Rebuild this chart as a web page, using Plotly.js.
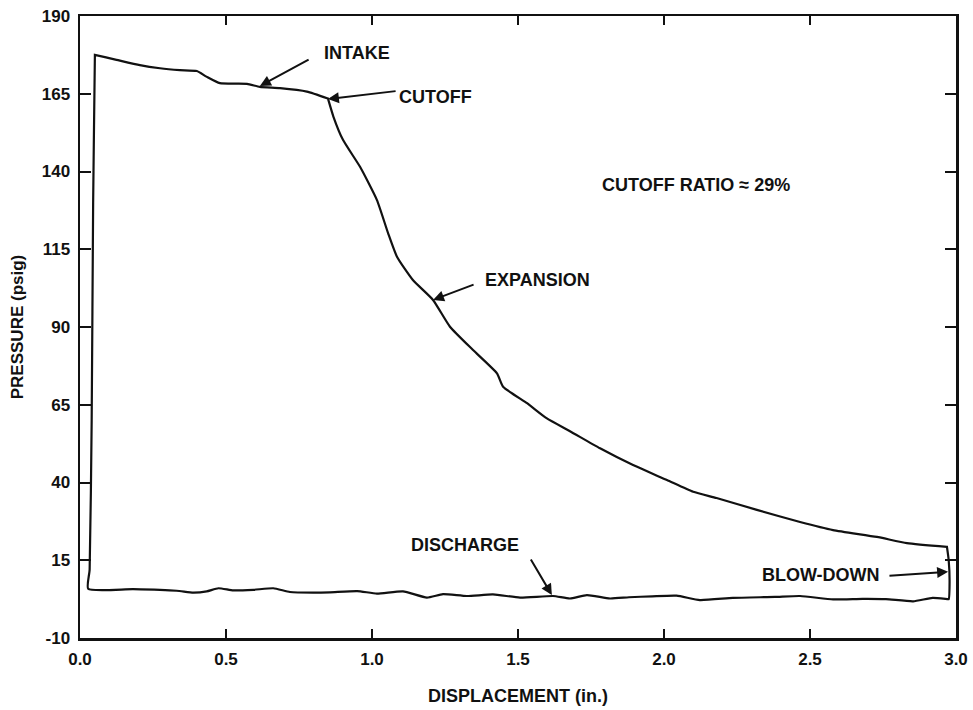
<!DOCTYPE html>
<html>
<head>
<meta charset="utf-8">
<script src="https://cdn.plot.ly/plotly-3.0.1.min.js"></script>
<style>html,body{margin:0;padding:0;background:#fff;}#chart{width:973px;height:710px;}</style>
</head>
<body>
<div id="chart"></div>
<script>
// Indicator diagram segments (displacement in., pressure psig)
const admissionX = [0.028, 0.033, 0.040, 0.045, 0.051];
const admissionY = [5.8, 12, 60, 130, 177.5];

const intakeX = [0.051, 0.125, 0.205, 0.274, 0.342, 0.400, 0.433, 0.479, 0.572, 0.616, 0.685, 0.777, 0.849];
const intakeY = [177.5, 175.9, 174.2, 173.2, 172.6, 172.3, 170.5, 168.4, 168.2, 167.2, 166.8, 165.7, 163.5];

const expansionX = [0.849, 0.868, 0.901, 0.959, 1.017, 1.055, 1.086, 1.140, 1.209, 1.267, 1.346, 1.428, 1.449, 1.531, 1.599, 1.678, 1.781, 1.894, 2.010, 2.100, 2.180, 2.318, 2.466, 2.579, 2.729, 2.832, 2.969];
const expansionY = [163.5, 157.6, 150.1, 141.5, 130.8, 120.2, 112.5, 105.1, 98.7, 90.1, 82.6, 75.1, 70.8, 65.5, 60.6, 56.5, 51.0, 45.6, 40.8, 37.0, 35.0, 31.2, 27.3, 24.7, 22.5, 20.5, 19.3];

const blowdownX = [2.969, 2.975, 2.978, 2.975];
const blowdownY = [19.3, 15, 8, 2.5];

const dischargeX = [2.973, 2.920, 2.853, 2.760, 2.680, 2.579, 2.466, 2.380, 2.236, 2.123, 2.043, 1.960, 1.880, 1.815, 1.736, 1.678, 1.620, 1.507, 1.414, 1.325, 1.243, 1.188, 1.106, 1.017, 0.949, 0.856, 0.798, 0.719, 0.662, 0.594, 0.525, 0.474, 0.434, 0.388, 0.331, 0.182, 0.028];
const dischargeY = [2.5, 2.9, 1.8, 2.5, 2.6, 2.4, 3.5, 3.2, 2.9, 2.2, 3.6, 3.4, 3.1, 2.7, 3.8, 2.7, 3.5, 3.0, 4.0, 3.5, 4.1, 3.0, 5.0, 4.3, 5.1, 4.7, 4.6, 4.8, 6.0, 5.5, 5.3, 6.0, 5.0, 4.6, 5.2, 5.7, 5.8];

const xTickVals = [0, 0.5, 1.0, 1.5, 2.0, 2.5, 3.0];
const xTickText = ['0.0', '0.5', '1.0', '1.5', '2.0', '2.5', '3.0'];
const yTickVals = [-10, 15, 40, 65, 90, 115, 140, 165, 190];
const yTickText = ['-10', '15', '40', '65', '90', '115', '140', '165', '190'];

// Labels: [text, x, y] and arrows: [tailX, tailY, headX, headY]
const labelTexts = ['INTAKE', 'CUTOFF', 'EXPANSION', 'CUTOFF RATIO \u2248 29%', 'DISCHARGE', 'BLOW-DOWN'];
const labelX = [0.829, 1.086, 1.380, 1.781, 1.127, 2.329];
const labelY = [178.1, 164.0, 105.1, 135.7, 19.9, 10.3];
const arrowTailX = [0.788, 1.086, 1.353, 1.541, 2.767];
const arrowTailY = [176.2, 165.9, 103.8, 15.7, 10.0];
const arrowHeadX = [0.616, 0.849, 1.209, 1.616, 2.973];
const arrowHeadY = [167.5, 163.3, 98.7, 3.8, 11.3];

const loopX = admissionX.concat(intakeX, expansionX, blowdownX, dischargeX);
const loopY = admissionY.concat(intakeY, expansionY, blowdownY, dischargeY);

const FONT = '"Liberation Sans", Arial, Helvetica, sans-serif';
const INK = '#111111';

const annotations = [];
labelTexts.forEach((t, i) => {
  annotations.push({
    x: labelX[i], y: labelY[i], xref: 'x', yref: 'y', text: t, showarrow: false,
    xanchor: 'left', yanchor: 'middle',
    font: {family: FONT, size: 18, color: INK, weight: 'bold'}
  });
});
arrowTailX.forEach((tx, i) => {
  annotations.push({
    x: arrowHeadX[i], y: arrowHeadY[i], xref: 'x', yref: 'y',
    ax: tx, ay: arrowTailY[i], axref: 'x', ayref: 'y',
    text: '', showarrow: true, arrowhead: 2, arrowsize: 1.1, arrowwidth: 2, arrowcolor: INK
  });
});

const data = [{
  type: 'scatter', mode: 'lines', x: loopX, y: loopY,
  line: {color: INK, width: 2.2, shape: 'spline', smoothing: 0.5},
  hoverinfo: 'skip', showlegend: false
}];

const layout = {
  width: 973, height: 710,
  margin: {l: 80, r: 17, t: 16, b: 72},
  paper_bgcolor: '#ffffff', plot_bgcolor: '#ffffff',
  showlegend: false,
  font: {family: FONT, color: INK, size: 17, weight: 'bold'},
  xaxis: {
    range: [0, 3], tickmode: 'array', tickvals: xTickVals, ticktext: xTickText,
    ticks: 'inside', ticklen: 9, tickwidth: 2, tickcolor: INK,
    showline: true, linewidth: 2.5, linecolor: INK, mirror: 'ticks',
    showgrid: false, zeroline: false, ticklabelstandoff: 4,
    tickfont: {family: FONT, size: 17, color: INK, weight: 'bold'},
    title: {text: 'DISPLACEMENT (in.)', standoff: 22, font: {family: FONT, size: 18, color: INK, weight: 'bold'}}
  },
  yaxis: {
    range: [-10, 190], tickmode: 'array', tickvals: yTickVals, ticktext: yTickText,
    ticks: 'inside', ticklen: 11, tickwidth: 2, tickcolor: INK,
    showline: true, linewidth: 2.5, linecolor: INK, mirror: 'ticks',
    showgrid: false, zeroline: false, ticklabelstandoff: 4,
    tickfont: {family: FONT, size: 17, color: INK, weight: 'bold'},
    title: {text: 'PRESSURE (psig)', standoff: 14, font: {family: FONT, size: 17, color: INK, weight: 'bold'}}
  },
  annotations: annotations
};

Plotly.newPlot('chart', data, layout, {displayModeBar: false, staticPlot: true});
</script>
</body>
</html>
